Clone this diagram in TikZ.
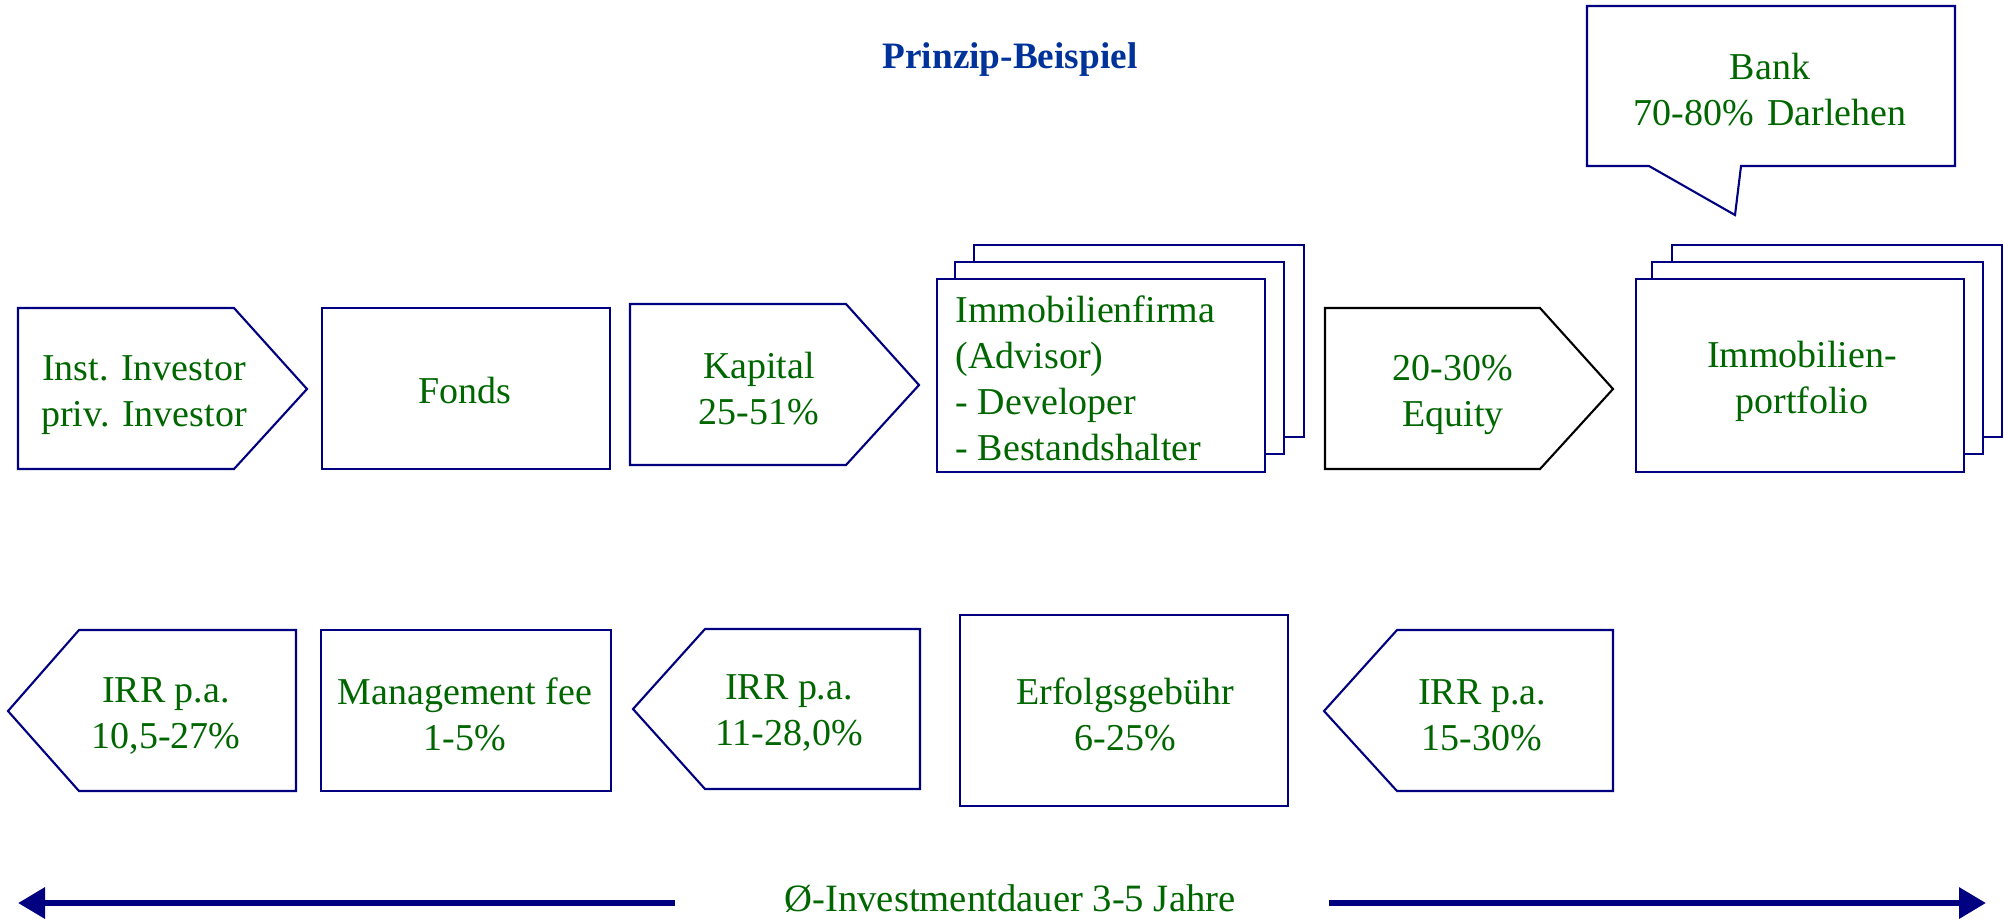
\documentclass[tikz,border=0pt]{standalone}
\usepackage{fontspec}
\setmainfont{Liberation Serif}
\usetikzlibrary{arrows.meta,positioning}
\definecolor{textgreen}{HTML}{006600}
\definecolor{framenavy}{HTML}{000080}
\definecolor{titleblue}{HTML}{003399}

\begin{document}
\begin{tikzpicture}[x=0.01cm,y=-0.01cm,
    frame/.style={draw=framenavy,line width=0.6pt,fill=white,line join=miter},
    label/.style={text=textgreen,font=\fontsize{10.8}{13.1}\selectfont,align=center,inner sep=0pt},
    span/.style={framenavy,line width=1.8pt,-{Triangle[width=0.3cm,length=0.27cm]}}]
  \useasboundingbox (0,0) rectangle (2004,920);

  % title
  \node[font=\bfseries\fontsize{10.6}{12}\selectfont,text=titleblue] (title) at (1010,60) {Prinzip-Beispiel};

  % bank callout
  \draw[frame] (1587,6) -- (1955,6) -- (1955,166) -- (1741,166) -- (1735,215) -- (1649,166) -- (1587,166) -- cycle;
  \node[label] (bank) at (1770,90) {Bank\\70-80\%\hskip0.35em Darlehen};

  % upper row
  \draw[frame] (18,308) -- (234,308) -- (307,389) -- (234,469) -- (18,469) -- cycle;
  \node[label] (investor) at (144,395) {Inst. Investor\\priv. Investor};
  \draw[frame] (322,308) rectangle (610,469);
  \node[label] (fonds) at (465,390) {Fonds};
  \draw[frame] (630,304) -- (846,304) -- (919,385) -- (846,465) -- (630,465) -- cycle;
  \node[label] (kapital) at (759,389) {Kapital\\25-51\%};
  \draw[frame] (974,245) rectangle (1304,437);
  \draw[frame] (955,262) rectangle (1284,454);
  \draw[frame] (937,279) rectangle (1265,472);
  \node[label,align=left,anchor=west] (firma) at (955,378) {Immobilienfirma\\(Advisor)\\- Developer\\- Bestandshalter};
  \draw[frame,draw=black] (1325,308) -- (1540,308) -- (1613,389) -- (1540,469) -- (1325,469) -- cycle;
  \node[label] (equity) at (1453,395) {20-30\%\\Equity};
  \draw[frame] (1672,245) rectangle (2002,437);
  \draw[frame] (1652,262) rectangle (1983,454);
  \draw[frame] (1636,279) rectangle (1964,472);
  \node[label] (portfolio) at (1802,381) {Immobilien-\\portfolio};

  % lower row
  \draw[frame] (8,711) -- (79,630) -- (296,630) -- (296,791) -- (79,791) -- cycle;
  \node[label] (irrfonds) at (166,716) {IRR p.a.\\10,5-27\%};
  \draw[frame] (321,630) rectangle (611,791);
  \node[label] (mgmt) at (465,714) {Management fee\\1-5\%};
  \draw[frame] (633,709) -- (705,629) -- (920,629) -- (920,789) -- (705,789) -- cycle;
  \node[label] (irrkapital) at (789,713) {IRR p.a.\\11-28,0\%};
  \draw[frame] (960,615) rectangle (1288,806);
  \node[label] (erfolg) at (1125,714) {Erfolgsgebühr\\6-25\%};
  \draw[frame] (1324,711) -- (1397,630) -- (1613,630) -- (1613,791) -- (1397,791) -- cycle;
  \node[label] (irrequity) at (1482,715) {IRR p.a.\\15-30\%};

  % duration
  \node[label,font=\fontsize{11}{13}\selectfont,anchor=base] (dauer) at (1010,911) {Ø-Investmentdauer 3-5 Jahre};
  \coordinate (leftend) at (18,903);
  \coordinate (rightend) at (1986,903);
  \draw[span] (675,903) -- (leftend);
  \draw[span] (1329,903) -- (rightend);
\end{tikzpicture}
\end{document}
